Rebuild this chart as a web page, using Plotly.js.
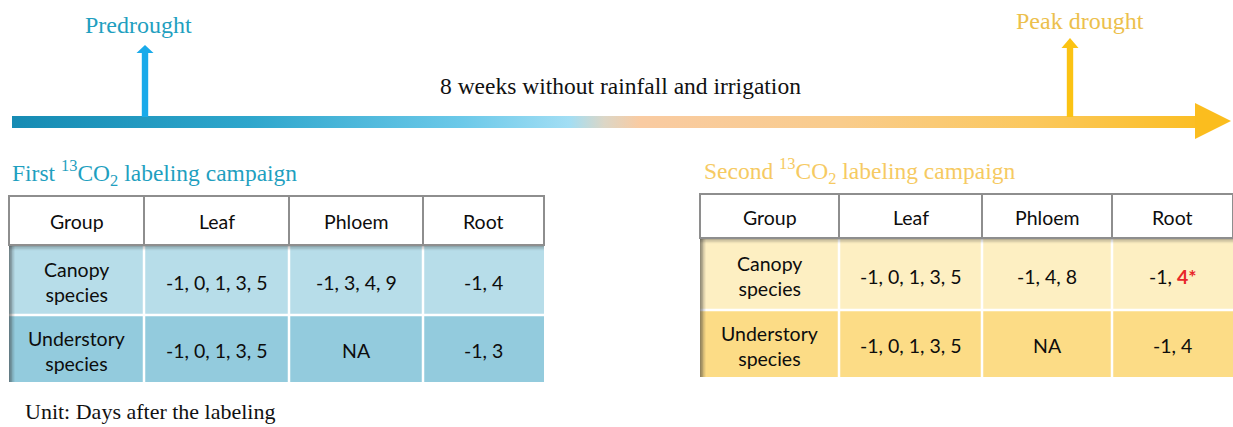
<!DOCTYPE html>
<html><head><meta charset="utf-8">
<script src="https://cdn.plot.ly/plotly-3.0.1.min.js"></script>
<style>html,body{margin:0;padding:0;background:#fff}</style>
</head><body><div id="chart" style="width:1233px;height:427px"></div>
<script>
// ---- content ----
const phaseLabels = ["Predrought", "Peak drought"];
const intervalLabel = "8 weeks without rainfall and irrigation";
const campaignTitles = ["First <sup>13</sup>CO<sub>2</sub> labeling campaign",
                        "Second <sup>13</sup>CO<sub>2</sub> labeling campaign"];
const headerLabels = ["Group", "Leaf", "Phloem", "Root"];
const groupLabels = ["Canopy<br>species", "Understory<br>species"];
const firstCanopy = ["-1, 0, 1, 3, 5", "-1, 3, 4, 9", "-1, 4"];
const firstUnderstory = ["-1, 0, 1, 3, 5", "NA", "-1, 3"];
const secondCanopy = ["-1, 0, 1, 3, 5", "-1, 4, 8", "-1, <b><span style=\"color:#e8262a\">4*</span></b>"];
const secondUnderstory = ["-1, 0, 1, 3, 5", "NA", "-1, 4"];
const unitNote = "Unit: Days after the labeling";

// ---- styles ----
const SERIF = "Liberation Serif, Times New Roman, serif";
const SANS = "Lato, Carlito, Calibri, sans-serif";
const TEAL = "#1f9fc0", BLUE_ARROW = "#19aaea", GOLD_ARROW = "#fbc313", GOLD_TEXT = "#ecc04c", GOLD_TITLE = "#f6ca62";
const INK = "#0d0d0d";

const shapes = [], annotations = [], traces = [];

// timeline bar with gradient
traces.push({
  type: "scatter", mode: "lines", line: {width: 0},
  x: [12, 1197, 1197, 12, 12], y: [116, 116, 128, 128, 116],
  fill: "toself",
  fillgradient: {type: "horizontal", colorscale: [
    [0, "#168bb3"], [0.2, "#2ea6cc"], [0.38, "#6cc9e9"], [0.47, "#a2def4"],
    [0.5, "#dcd6c6"], [0.53, "#f9cba2"], [0.7, "#f9cc8c"], [0.86, "#fbc85e"], [1, "#fbbe24"]]},
  hoverinfo: "skip", showlegend: false
});
shapes.push({type: "path", xref: "x", yref: "y", path: "M1195,103 L1231,121 L1195,139 Z",
  fillcolor: "#fbbd1e", line: {width: 0}});

// vertical arrows
function vArrow(cx, top, headBase, halfHead, halfShaft, color) {
  shapes.push({type: "rect", xref: "x", yref: "y", x0: cx - halfShaft, x1: cx + halfShaft,
    y0: headBase - 0.5, y1: 117, fillcolor: color, line: {width: 0}});
  shapes.push({type: "path", xref: "x", yref: "y",
    path: `M${cx - halfHead},${headBase} L${cx},${top} L${cx + halfHead},${headBase} Z`,
    fillcolor: color, line: {width: 0}});
}
vArrow(145, 45, 53, 8.5, 3.2, BLUE_ARROW);
vArrow(1070, 38, 48, 8.5, 3.2, GOLD_ARROW);

annotations.push({x: 138, y: 25, text: phaseLabels[0], font: {family: SERIF, size: 24, color: TEAL}});
annotations.push({x: 1080, y: 21, text: phaseLabels[1], font: {family: SERIF, size: 24, color: GOLD_TEXT}});
annotations.push({x: 620, y: 86, text: intervalLabel, font: {family: SERIF, size: 23.5, color: "#111"}});

annotations.push({x: 10, y: 173, xanchor: "left", text: campaignTitles[0], font: {family: SERIF, size: 23.5, color: TEAL}});
annotations.push({x: 702, y: 171, xanchor: "left", text: campaignTitles[1], font: {family: SERIF, size: 23.5, color: GOLD_TITLE}});
annotations.push({x: 23, y: 411, xanchor: "left", text: unitNote, font: {family: SERIF, size: 22, color: "#111"}});

// tables
function drawTable(cols, rows, rowsData, fills) {
  const L = cols[0], R = cols[cols.length - 1];
  for (let r = 0; r < 2; r++) {
    shapes.push({type: "rect", xref: "x", yref: "y", x0: L, x1: R, y0: rows[r + 1], y1: rows[r + 2],
      fillcolor: fills[r], line: {width: 0}});
  }
  for (let c = 1; c < cols.length - 1; c++) {
    shapes.push({type: "line", xref: "x", yref: "y", x0: cols[c], x1: cols[c], y0: rows[1], y1: rows[3],
      line: {color: "#ffffff", width: 2.5}});
  }
  shapes.push({type: "line", xref: "x", yref: "y", x0: L, x1: R, y0: rows[2], y1: rows[2],
    line: {color: "#ffffff", width: 2.5}});
  const sh = [[L + 0.8, 0.55, 1.6], [L + 2.2, 0.38, 1.4], [L + 3.5, 0.22, 1.4], [L + 4.8, 0.1, 1.4]];
  sh.forEach(([x, a, w]) => shapes.push({type: "line", xref: "x", yref: "y", x0: x, x1: x, y0: rows[1], y1: rows[3],
    line: {color: `rgba(60,60,60,${a})`, width: w}}));
  [[1.6, 0.35], [3.0, 0.2], [4.4, 0.08]].forEach(([d, a]) => shapes.push({type: "line", xref: "x", yref: "y",
    x0: L, x1: R, y0: rows[1] + d, y1: rows[1] + d, line: {color: `rgba(60,60,60,${a})`, width: 1.5}}));
  shapes.push({type: "rect", xref: "x", yref: "y", x0: L, x1: R, y0: rows[0], y1: rows[1],
    fillcolor: "#ffffff", line: {color: "#8e8e8e", width: 2}});
  for (let c = 1; c < cols.length - 1; c++) {
    shapes.push({type: "line", xref: "x", yref: "y", x0: cols[c], x1: cols[c], y0: rows[0], y1: rows[1],
      line: {color: "#8e8e8e", width: 2}});
  }
  const mid = i => (cols[i] + cols[i + 1]) / 2;
  headerLabels.forEach((t, i) => annotations.push({x: mid(i), y: (rows[0] + rows[1]) / 2 + 1, text: t,
    font: {family: SANS, size: 19.5, color: INK}}));
  rowsData.forEach((vals, r) => {
    const y = (rows[r + 1] + rows[r + 2]) / 2 + 2;
    annotations.push({x: mid(0), y: y, text: groupLabels[r], font: {family: SANS, size: 19.5, color: INK}});
    vals.forEach((t, i) => annotations.push({x: mid(i + 1), y: y, text: t,
      font: {family: SANS, size: 19.5, color: INK}}));
  });
}
drawTable([9, 144, 289, 423, 544], [196, 245, 315, 382], [firstCanopy, firstUnderstory], ["#b7dde9", "#93cbdd"]);
drawTable([700, 839, 982, 1112, 1233], [194, 238, 310, 377], [secondCanopy, secondUnderstory], ["#fdefc2", "#fcdc86"]);

annotations.forEach(a => { a.showarrow = false; a.xref = "x"; a.yref = "y";
  if (!a.xanchor) a.xanchor = "center"; a.yanchor = "middle"; });

const layout = {
  width: 1233, height: 427, margin: {l: 0, r: 0, t: 0, b: 0},
  paper_bgcolor: "#ffffff", plot_bgcolor: "#ffffff",
  xaxis: {range: [0, 1233], visible: false, fixedrange: true},
  yaxis: {range: [427, 0], visible: false, fixedrange: true},
  shapes: shapes, annotations: annotations, showlegend: false
};
Plotly.newPlot("chart", traces, layout, {staticPlot: true, displayModeBar: false});
</script></body></html>
